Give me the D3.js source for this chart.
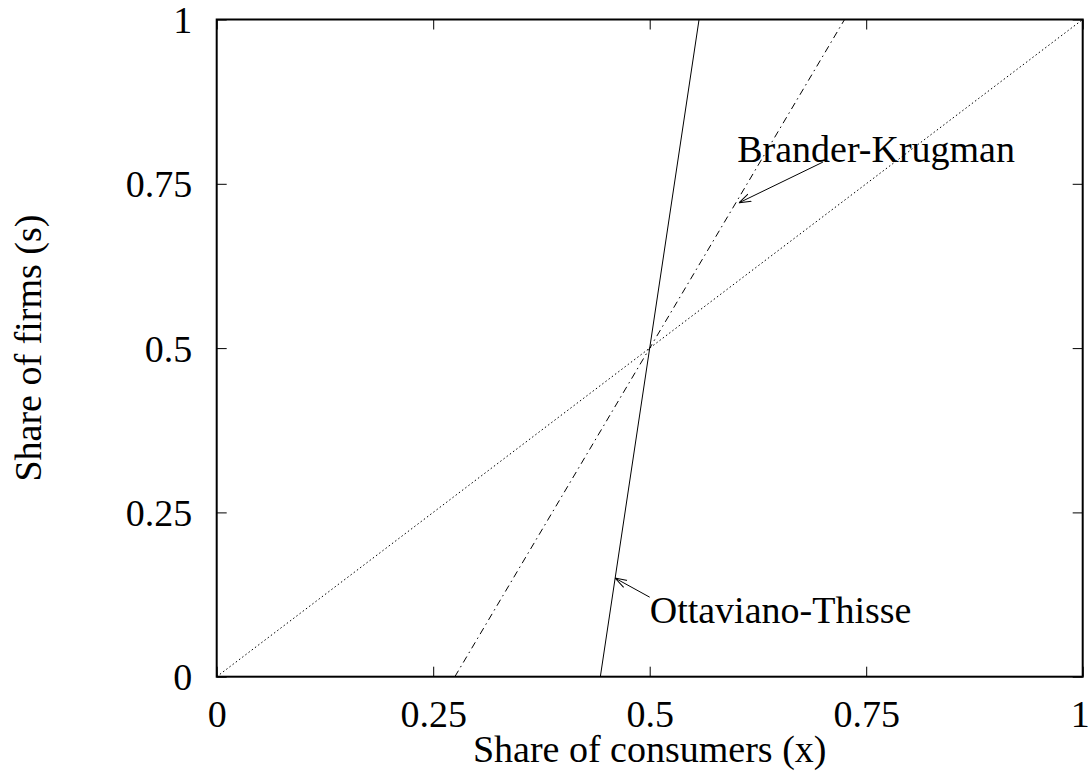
<!DOCTYPE html>
<html>
<head>
<meta charset="utf-8">
<script src="https://cdn.jsdelivr.net/npm/d3@7"></script>
<style>
  html, body { margin: 0; padding: 0; background: #fff; }
  svg text { font-family: "Liberation Serif", "Times New Roman", serif; fill: #000; }
</style>
</head>
<body>
<div id="chart"></div>
<script>
// Tick values on both axes
const xTicks = [0, 0.25, 0.5, 0.75, 1];
const yTicks = [0, 0.25, 0.5, 0.75, 1];

// Curves: share of consumers (x) vs share of firms (s)
const ottavianoX = [0.443, 0.557];
const ottavianoS = [0, 1];
const branderX = [0.275, 0.725];
const branderS = [0, 1];
const diagonalX = [0, 1];
const diagonalS = [0, 1];

// Annotation labels and arrows (data coordinates)
const labelNames = ["Brander-Krugman", "Ottaviano-Thisse"];
const labelX = [0.601, 0.500];
const labelS = [0.783, 0.082];
const arrowFromX = [0.700, 0.500];
const arrowFromS = [0.783, 0.121];
const arrowToX = [0.603, 0.460];
const arrowToS = [0.721, 0.150];

const width = 1090;
const height = 772;
const margin = { top: 19.5, right: 7.3, bottom: 95.3, left: 216.7 };
const innerW = width - margin.left - margin.right;
const innerH = height - margin.top - margin.bottom;
const fontSize = 38;

const x = d3.scaleLinear().domain([0, 1]).range([0, innerW]);
const y = d3.scaleLinear().domain([0, 1]).range([innerH, 0]);
const fmt = (d) => String(d);

const svg = d3.select("#chart")
  .append("svg")
  .attr("width", width)
  .attr("height", height);

const g = svg.append("g")
  .attr("transform", `translate(${margin.left},${margin.top})`);

// arrowhead: open V
svg.append("defs")
  .append("marker")
  .attr("id", "head")
  .attr("viewBox", "0 0 12 10")
  .attr("refX", 12)
  .attr("refY", 5)
  .attr("markerWidth", 12)
  .attr("markerHeight", 10)
  .attr("markerUnits", "userSpaceOnUse")
  .attr("orient", "auto")
  .append("path")
  .attr("d", "M0,1 L12,5 L0,9")
  .attr("fill", "none")
  .attr("stroke", "#000")
  .attr("stroke-width", 1);

// Axes with inward ticks, mirrored
const tickLen = 10;
g.append("g")
  .attr("class", "x-axis")
  .attr("transform", `translate(0,${innerH})`)
  .call(d3.axisBottom(x).tickValues(xTicks).tickSize(-tickLen).tickPadding(23).tickFormat(fmt))
  .call((s) => s.select(".domain").remove());

g.append("g")
  .attr("class", "x-axis-top")
  .call(d3.axisTop(x).tickValues(xTicks).tickSize(-tickLen).tickFormat(""))
  .call((s) => s.select(".domain").remove());

g.append("g")
  .attr("class", "y-axis")
  .call(d3.axisLeft(y).tickValues(yTicks).tickSize(-tickLen).tickPadding(24.5).tickFormat(fmt))
  .call((s) => s.select(".domain").remove());

g.append("g")
  .attr("class", "y-axis-right")
  .attr("transform", `translate(${innerW},0)`)
  .call(d3.axisRight(y).tickValues(yTicks).tickSize(-tickLen).tickFormat(""))
  .call((s) => s.select(".domain").remove());

g.selectAll(".tick line").attr("stroke", "#000").attr("stroke-width", 1);
g.selectAll(".tick text")
  .style("font-family", "'Liberation Serif', 'Times New Roman', serif")
  .style("font-size", `${fontSize}px`)
  .attr("fill", "#000");
g.selectAll(".y-axis .tick text").attr("dy", "0.34em");
g.selectAll(".x-axis .tick text").attr("dy", "0.71em");
// the last label sits against the page edge
g.selectAll(".x-axis .tick text").filter((d) => d === 1).attr("dx", -3);

// Curves
const line = d3.line()
  .x((d) => x(d[0]))
  .y((d) => y(d[1]));

const series = [
  { xs: diagonalX, ss: diagonalS, dash: "1.5,2.5" },
  { xs: branderX, ss: branderS, dash: "7,4,1.5,4" },
  { xs: ottavianoX, ss: ottavianoS, dash: null },
];

series.forEach((sr) => {
  g.append("path")
    .datum(sr.xs.map((v, i) => [v, sr.ss[i]]))
    .attr("fill", "none")
    .attr("stroke", "#000")
    .attr("stroke-width", 1)
    .attr("stroke-dasharray", sr.dash)
    .attr("d", line);
});

// Frame
g.append("rect")
  .attr("x", 0)
  .attr("y", 0)
  .attr("width", innerW)
  .attr("height", innerH)
  .attr("fill", "none")
  .attr("stroke", "#000")
  .attr("stroke-width", 2);

// Annotations
labelNames.forEach((name, i) => {
  g.append("line")
    .attr("x1", x(arrowFromX[i]))
    .attr("y1", y(arrowFromS[i]))
    .attr("x2", x(arrowToX[i]))
    .attr("y2", y(arrowToS[i]))
    .attr("stroke", "#000")
    .attr("stroke-width", 1)
    .attr("marker-end", "url(#head)");

  g.append("text")
    .attr("x", x(labelX[i]))
    .attr("y", y(labelS[i]))
    .style("font-size", `${fontSize}px`)
    .text(name);
});

// Axis titles
svg.append("text")
  .attr("x", margin.left + innerW / 2)
  .attr("y", 762)
  .attr("text-anchor", "middle")
  .style("font-size", `${fontSize}px`)
  .text("Share of consumers (x)");

svg.append("text")
  .attr("transform", `translate(41,${margin.top + innerH / 2}) rotate(-90)`)
  .attr("text-anchor", "middle")
  .style("font-size", `${fontSize}px`)
  .text("Share of firms (s)");
</script>
</body>
</html>
